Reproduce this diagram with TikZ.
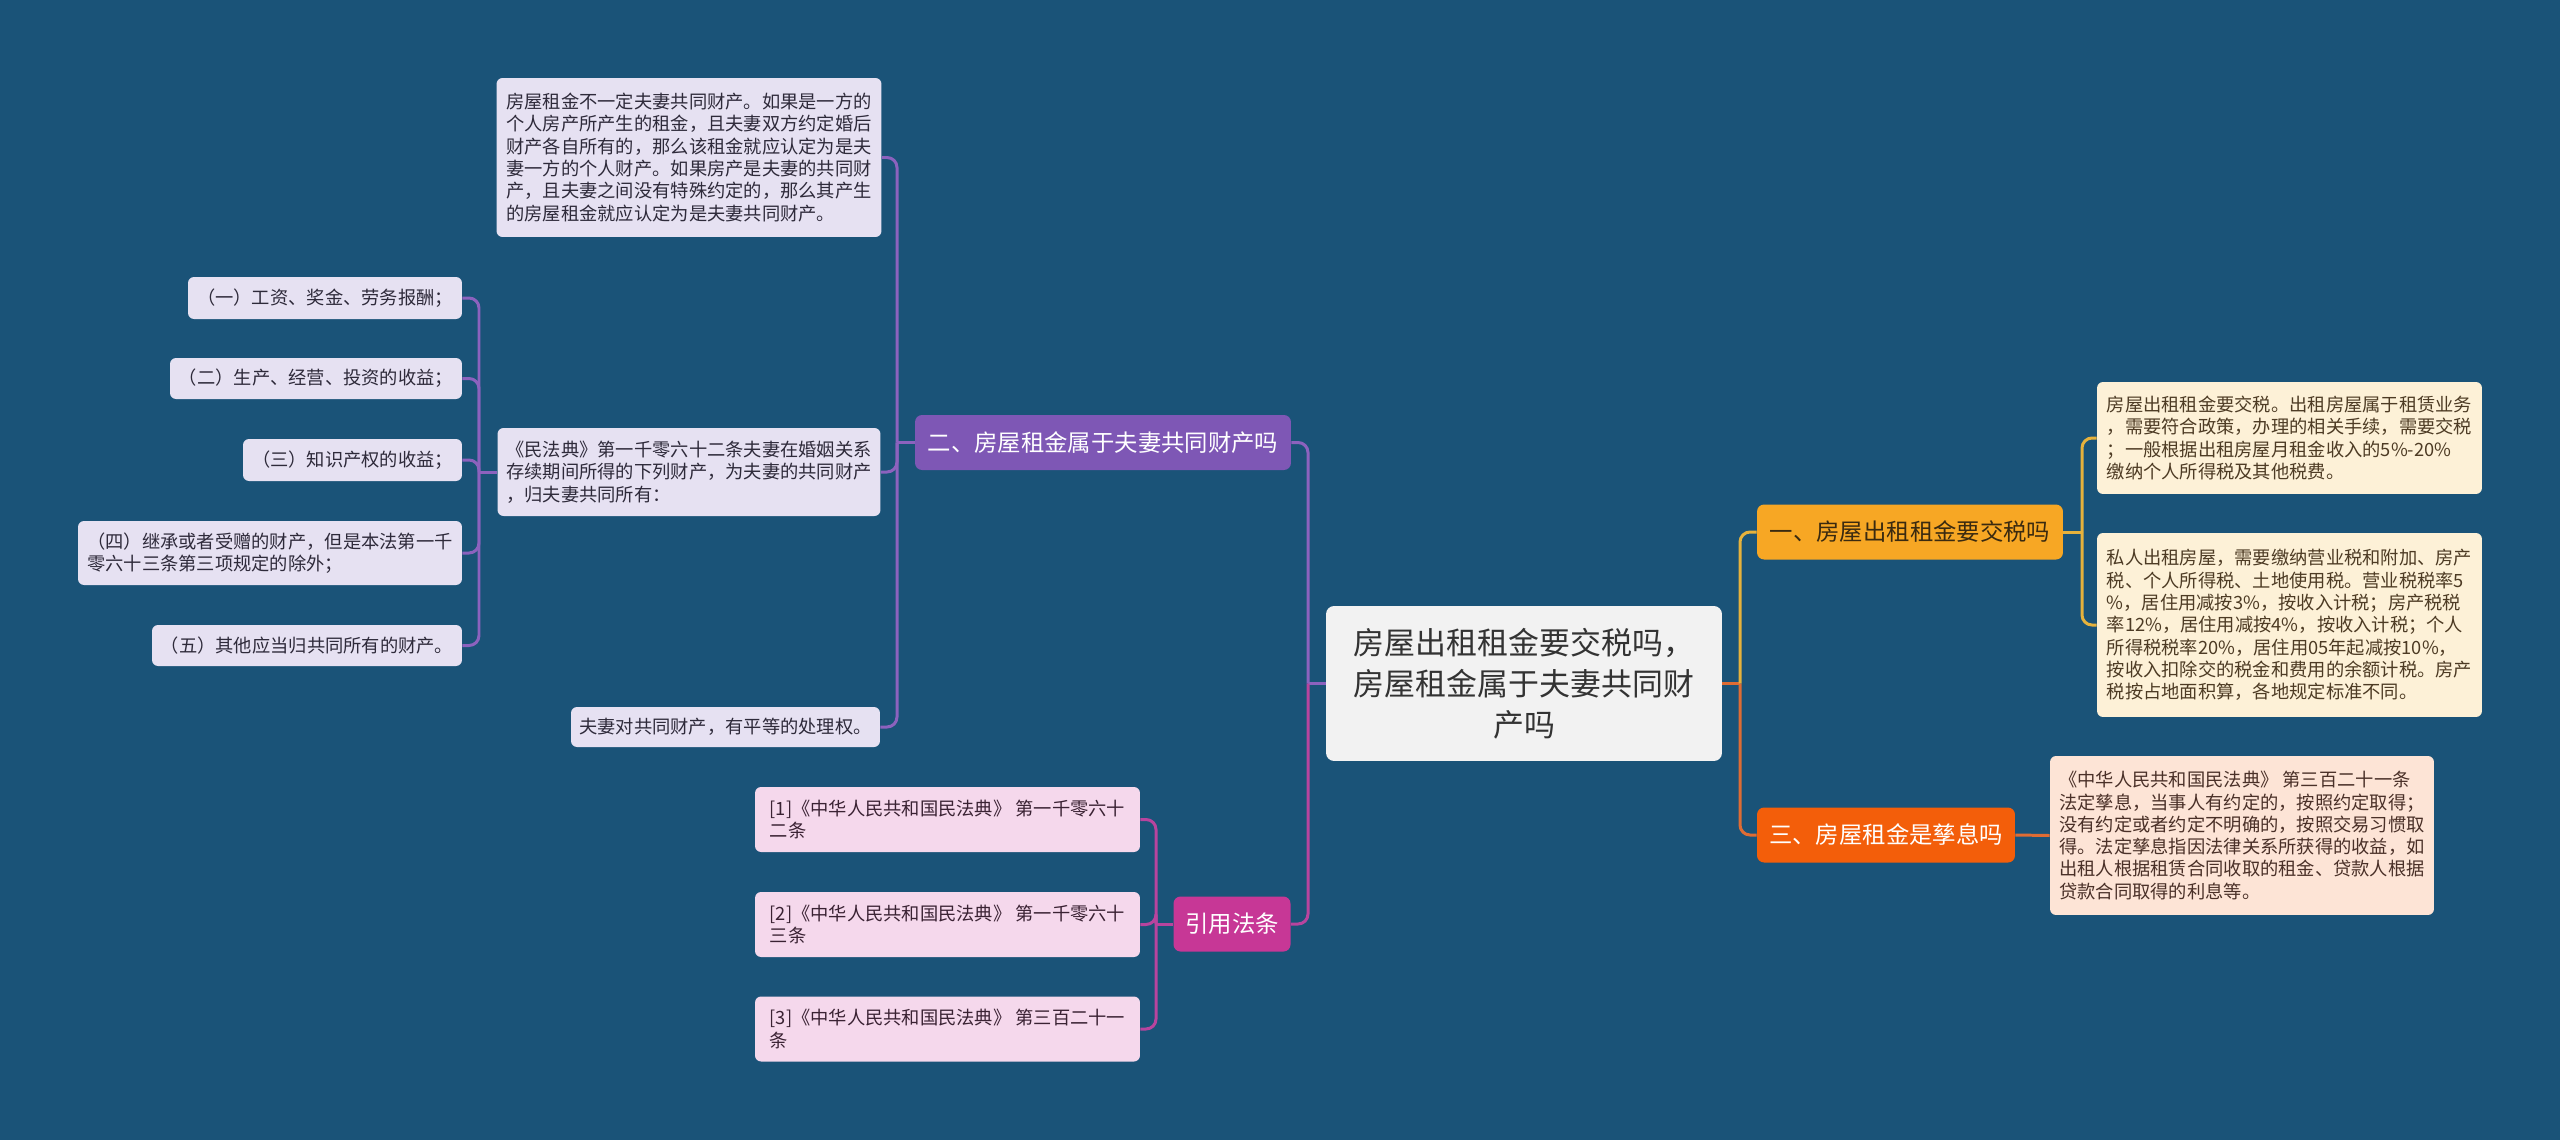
\documentclass[tikz,border=0pt]{standalone}
\usepackage{fontspec}
\setmainfont{Noto Sans CJK SC}
\usepackage{xcolor}
\definecolor{bgblue}{RGB}{26, 83, 120}
\definecolor{rootgray}{RGB}{242, 242, 242}
\definecolor{roottext}{RGB}{51, 51, 51}
\definecolor{taxgold}{RGB}{247, 167, 36}
\definecolor{taxline}{RGB}{230, 178, 60}
\definecolor{fruitorange}{RGB}{243, 94, 10}
\definecolor{fruitline}{RGB}{222, 108, 52}
\definecolor{spousepurple}{RGB}{126, 87, 181}
\definecolor{spouseline}{RGB}{140, 98, 190}
\definecolor{lawmagenta}{RGB}{199, 55, 150}
\definecolor{lawline}{RGB}{184, 68, 158}
\definecolor{lavender}{RGB}{230, 225, 242}
\definecolor{lavtext}{RGB}{46, 42, 58}
\definecolor{pinkleaf}{RGB}{245, 216, 236}
\definecolor{pinktext}{RGB}{58, 34, 51}
\definecolor{creamleaf}{RGB}{253, 241, 215}
\definecolor{creamtext}{RGB}{77, 59, 36}
\definecolor{peachleaf}{RGB}{253, 228, 214}
\definecolor{peachtext}{RGB}{74, 48, 40}
\definecolor{goldtext}{RGB}{58, 42, 16}
\newcommand{\rootfont}{\fontsize{17.6}{23.3}\selectfont}
\newcommand{\branchfont}{\fontsize{13.3}{16}\selectfont}
\newcommand{\leaffont}{\fontsize{10.4}{12.7}\selectfont}

\begin{document}
\begin{tikzpicture}[x=0.02cm, y=-0.02cm,
  rootbox/.style={fill=rootgray, text=roottext, rounded corners=0.16cm, align=center, font=\rootfont, minimum width=7.92cm, minimum height=3.1cm, inner sep=0pt},
  branchbox/.style={rounded corners=0.14cm, font=\branchfont, minimum height=1.1cm, inner sep=0pt},
  leafbox/.style={rounded corners=0.12cm, font=\leaffont, align=left, inner xsep=0.16cm, inner ysep=0pt},
  lavbox/.style={leafbox, fill=lavender, text=lavtext},
  pinkbox/.style={leafbox, fill=pinkleaf, text=pinktext},
  creambox/.style={leafbox, fill=creamleaf, text=creamtext},
  peachbox/.style={leafbox, fill=peachleaf, text=peachtext},
  link/.style={line width=1.7pt},
  elbow/.style={line width=1.7pt, rounded corners=0.2cm}
]
  % 背景
  \fill[bgblue] (0,0) rectangle (2560,1140);
  \useasboundingbox (0,0) rectangle (2560,1140);

  % ===== 中心主题 =====
  \node[rootbox] (root) at (1524, 683.5) {房屋出租租金要交税吗，\\房屋租金属于夫妻共同财\\产吗};

  % ===== 右侧分支 =====
  \node[branchbox, fill=taxgold, text=goldtext, minimum width=6.12cm] (tax) at (1910, 532) {一、房屋出租租金要交税吗};
  \node[branchbox, fill=fruitorange, text=white, minimum width=5.16cm] (fruit) at (1886, 835) {三、房屋租金是孳息吗};

  % 交税说明
  \node[creambox, minimum width=7.7cm, minimum height=2.24cm] (taxA) at (2289.5, 438) {房屋出租租金要交税。出租房屋属于租赁业务\\，需要符合政策，办理的相关手续，需要交税\\；一般根据出租房屋月租金收入的5\%-20\%\\缴纳个人所得税及其他税费。};
  \node[creambox, minimum width=7.7cm, minimum height=3.68cm] (taxB) at (2289.5, 625) {私人出租房屋，需要缴纳营业税和附加、房产\\税、个人所得税、土地使用税。营业税税率5\\\%，居住用减按3\%，按收入计税；房产税税\\率12\%，居住用减按4\%，按收入计税；个人\\所得税税率20\%，居住用05年起减按10\%，\\按收入扣除交的税金和费用的余额计税。房产\\税按占地面积算，各地规定标准不同。};

  % 孳息说明
  \node[peachbox, minimum width=7.68cm, minimum height=3.18cm] (fruitA) at (2242, 835.5) {《中华人民共和国民法典》 第三百二十一条\\法定孳息，当事人有约定的，按照约定取得；\\没有约定或者约定不明确的，按照交易习惯取\\得。法定孳息指因法律关系所获得的收益，如\\出租人根据租赁合同收取的租金、贷款人根据\\贷款合同取得的利息等。};

  % ===== 左侧分支 =====
  \node[branchbox, fill=spousepurple, text=white, minimum width=7.52cm] (spouse) at (1103, 442.5) {二、房屋租金属于夫妻共同财产吗};
  \node[branchbox, fill=lawmagenta, text=white, minimum width=2.34cm] (law) at (1232, 924) {引用法条};

  % 夫妻共同财产
  \node[lavbox, minimum width=7.7cm, minimum height=3.18cm] (rentA) at (689, 157.5) {房屋租金不一定夫妻共同财产。如果是一方的\\个人房产所产生的租金，且夫妻双方约定婚后\\财产各自所有的，那么该租金就应认定为是夫\\妻一方的个人财产。如果房产是夫妻的共同财\\产，且夫妻之间没有特殊约定的，那么其产生\\的房屋租金就应认定为是夫妻共同财产。};
  \node[lavbox, minimum width=7.66cm, minimum height=1.76cm] (code) at (689, 472) {《民法典》第一千零六十二条夫妻在婚姻关系\\存续期间所得的下列财产，为夫妻的共同财产\\，归夫妻共同所有：};
  \node[lavbox, minimum width=6.18cm, minimum height=0.8cm] (equal) at (725.5, 727) {夫妻对共同财产，有平等的处理权。};

  % 共同财产各项
  \node[lavbox, minimum width=5.48cm, minimum height=0.84cm] (item1) at (325, 298) {（一）工资、奖金、劳务报酬；};
  \node[lavbox, minimum width=5.84cm, minimum height=0.82cm] (item2) at (316, 378.5) {（二）生产、经营、投资的收益；};
  \node[lavbox, minimum width=4.38cm, minimum height=0.84cm] (item3) at (352.5, 460) {（三）知识产权的收益；};
  \node[lavbox, minimum width=7.68cm, minimum height=1.28cm] (item4) at (270, 553) {（四）继承或者受赠的财产，但是本法第一千\\零六十三条第三项规定的除外；};
  \node[lavbox, minimum width=6.2cm, minimum height=0.82cm] (item5) at (307, 645.5) {（五）其他应当归共同所有的财产。};

  % 引用法条
  \node[pinkbox, minimum width=7.7cm, minimum height=1.3cm] (cite1) at (947.5, 819.5) {[1]《中华人民共和国民法典》 第一千零六十\\二条};
  \node[pinkbox, minimum width=7.7cm, minimum height=1.3cm] (cite2) at (947.5, 924.5) {[2]《中华人民共和国民法典》 第一千零六十\\三条};
  \node[pinkbox, minimum width=7.7cm, minimum height=1.3cm] (cite3) at (947.5, 1029) {[3]《中华人民共和国民法典》 第三百二十一\\条};

  % ===== 连线 =====
  \coordinate (jR) at (1740, 683.5);
  \coordinate (jL) at (1308, 683.5);
  \coordinate (jTax) at (2082, 532);
  \coordinate (jSpouse) at (897, 442.5);
  \coordinate (jCode) at (479, 472);
  \coordinate (jLaw) at (1156, 924);

  % 右侧
  \draw[link, fruitline] (root.east) -- (jR);
  \draw[elbow, taxline] (jR) |- (tax.west);
  \draw[elbow, fruitline] (jR) |- (fruit.west);
  \draw[link, taxline] (tax.east) -- (jTax);
  \draw[elbow, taxline] (jTax) |- (taxA.west);
  \draw[elbow, taxline] (jTax) |- (taxB.west);
  \draw[link, fruitline] (fruit.east) -- (fruitA.west);

  % 左侧
  \draw[link, spouseline] (root.west) -- (jL);
  \draw[elbow, spouseline] (jL) |- (spouse.east);
  \draw[elbow, lawline] (jL) |- (law.east);
  \draw[link, spouseline] (spouse.west) -- (jSpouse);
  \draw[elbow, spouseline] (jSpouse) |- (rentA.east);
  \draw[elbow, spouseline] (jSpouse) |- (code.east);
  \draw[elbow, spouseline] (jSpouse) |- (equal.east);
  \draw[link, spouseline] (code.west) -- (jCode);
  \draw[elbow, spouseline] (jCode) |- (item1.east);
  \draw[elbow, spouseline] (jCode) |- (item2.east);
  \draw[elbow, spouseline] (jCode) |- (item3.east);
  \draw[elbow, spouseline] (jCode) |- (item4.east);
  \draw[elbow, spouseline] (jCode) |- (item5.east);
  \draw[link, lawline] (law.west) -- (jLaw);
  \draw[elbow, lawline] (jLaw) |- (cite1.east);
  \draw[elbow, lawline] (jLaw) |- (cite2.east);
  \draw[elbow, lawline] (jLaw) |- (cite3.east);
\end{tikzpicture}
\end{document}
